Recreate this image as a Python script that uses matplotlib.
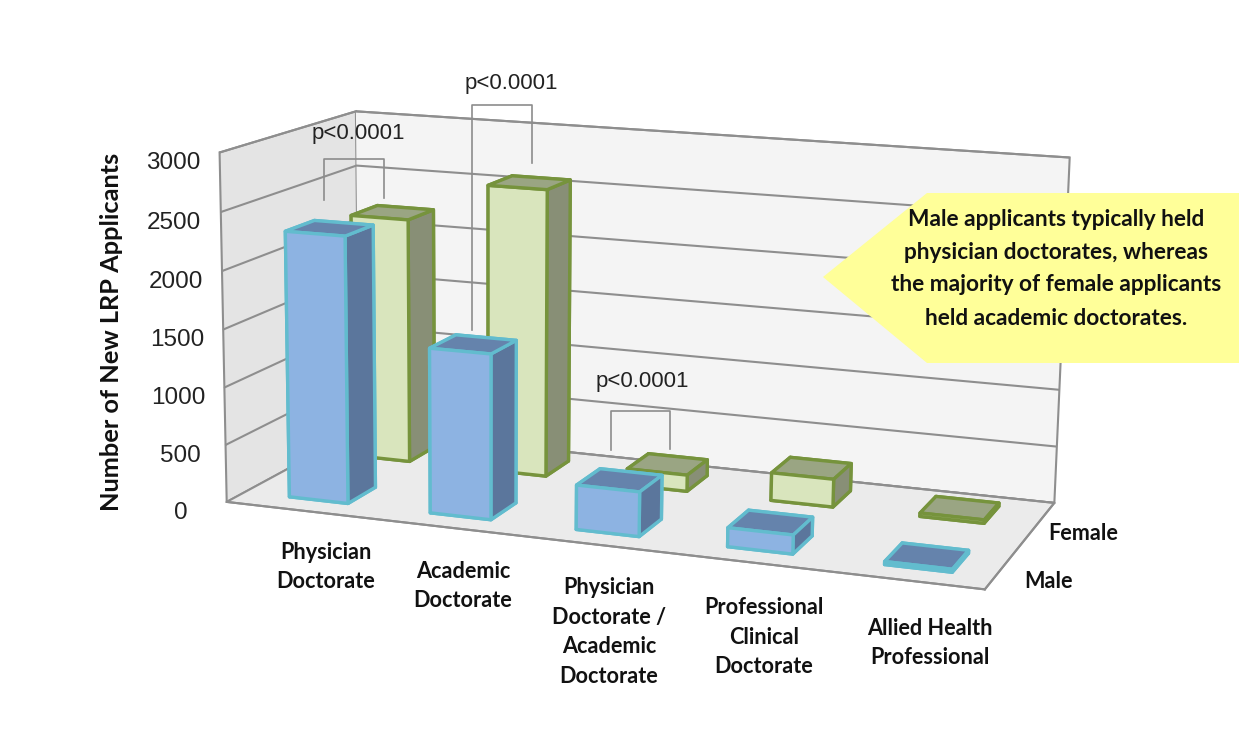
import matplotlib
matplotlib.use('Agg')
import matplotlib.pyplot as plt
from matplotlib.lines import Line2D
from matplotlib.patches import Polygon

categories = ['Physician\nDoctorate', 'Academic\nDoctorate',
              'Physician\nDoctorate /\nAcademic\nDoctorate',
              'Professional\nClinical\nDoctorate', 'Allied Health\nProfessional']
series = ['Male', 'Female']
male = [2310, 1420, 380, 160, 25]
female = [2200, 2560, 145, 245, 30]
z_ticks = [0, 500, 1000, 1500, 2000, 2500, 3000]

W, H = 1239, 740
fig = plt.figure(figsize=(W / 100, H / 100), dpi=100, facecolor='white')

side, cx, cy = 885, 633, 343
ax = fig.add_axes([(cx - side / 2) / W, 1 - (cy + side / 2) / H, side / W, side / H],
                  projection='3d', computed_zorder=False)
ax.set_proj_type('persp', focal_length=0.6)
ax.view_init(elev=12.5, azim=-70.5, roll=-0.7)
ax.set_box_aspect((2.3, 0.92, 1.05))
ax.patch.set_alpha(0)

ax.set_xlim(0, 5)
ax.set_ylim(0, 2)
ax.set_zlim(0, 3000)

bar_w, bar_d = 0.42, 0.42
male_faces = ['#5f7fa8', '#6583ac', '#8db3e2', '#8db3e2', '#5b769c', '#5b769c']
female_faces = ['#9aa583', '#9aa583', '#d9e5bd', '#d9e5bd', '#888f76', '#888f76']
for j, (vals, faces, edge, x_mid, y_mid) in enumerate([(female, female_faces, '#76933c', 0.47, 1.57),
                                                       (male, male_faces, '#62bcce', 0.53, 0.47)]):
    for i, v in enumerate(vals):
        ax.bar3d(i + x_mid - bar_w / 2, y_mid - bar_d / 2, 0, bar_w, bar_d, v, color=faces,
                 shade=False, edgecolor=edge, linewidth=2.4, zorder=10 * j + 10 + i)

grid_c = '#8e8e8e'
ax.xaxis.set_pane_color('#e4e4e4')
ax.yaxis.set_pane_color('#f4f4f4')
ax.zaxis.set_pane_color('#ebebeb')
for a in (ax.xaxis, ax.yaxis, ax.zaxis):
    a.pane.set_edgecolor(grid_c)
    a.pane.set_linewidth(1.5)
    a.line.set_color(grid_c)
    a.line.set_linewidth(1.5)
    a._axinfo['tick']['inward_factor'] = 0
ax.zaxis._axinfo['grid']['color'] = grid_c
ax.zaxis._axinfo['grid']['linewidth'] = 1.5

ax.set_xticks([])
ax.set_yticks([])
ax.set_zticks(z_ticks)
ax.set_zticklabels([str(t) for t in z_ticks], fontfamily='Liberation Sans', fontsize=17.5,
                   color='#222222')
ax.zaxis.set_ticks_position('lower')
ax.tick_params(axis='z', pad=10, color=grid_c, width=1.2)


def fx(x):
    return x / W


def fy(y):
    return 1 - y / H


def bold_label(x, y, s, size=15.6, **kw):
    fig.text(fx(x), fy(y), s, family='Lato', fontweight='bold', fontsize=size, color='#111111',
             ha='center', va='center', **kw)


# names placed by pixel, they sit further out than the 3d ticks would put them
for name, (x, y) in zip(categories, [(326, 567), (463, 586), (609, 632), (764, 637), (930, 643)]):
    bold_label(x, y, name, linespacing=1.5)
for name, (x, y) in zip(series, [(1048, 581), (1083, 534)]):
    bold_label(x, y, name)


def bracket(x0, y0, x1, y1, top, label, lx, ly):
    fig.add_artist(Line2D([fx(x0), fx(x0), fx(x1), fx(x1)], [fy(y0), fy(top), fy(top), fy(y1)],
                          color='#8c8c8c', lw=1.2))
    fig.text(fx(lx), fy(ly), label, family='Liberation Sans', fontsize=16, color='#222222',
             ha='center', va='center')


bracket(324, 200, 384, 198, 159, 'p<0.0001', 358, 134)
bracket(472, 330, 532, 163, 105, 'p<0.0001', 511, 83)
bracket(611, 450, 670, 449, 411, 'p<0.0001', 642, 382)

fig.add_artist(Polygon([(fx(823), fy(277)), (fx(927), fy(193)), (fx(1239), fy(193)),
                        (fx(1239), fy(363)), (fx(927), fy(363))],
                       closed=True, facecolor='#ffff99', edgecolor='none',
                       transform=fig.transFigure))
callout = ['Male applicants typically held', 'physician doctorates, whereas',
           'the majority of female applicants', 'held academic doctorates.']
for line, ly in zip(callout, [219, 252, 285, 319]):
    bold_label(1056, ly, line, size=16.3)

bold_label(112, 332, 'Number of New LRP Applicants', size=18.3, rotation=90)

fig.savefig('out.png', dpi=100)
